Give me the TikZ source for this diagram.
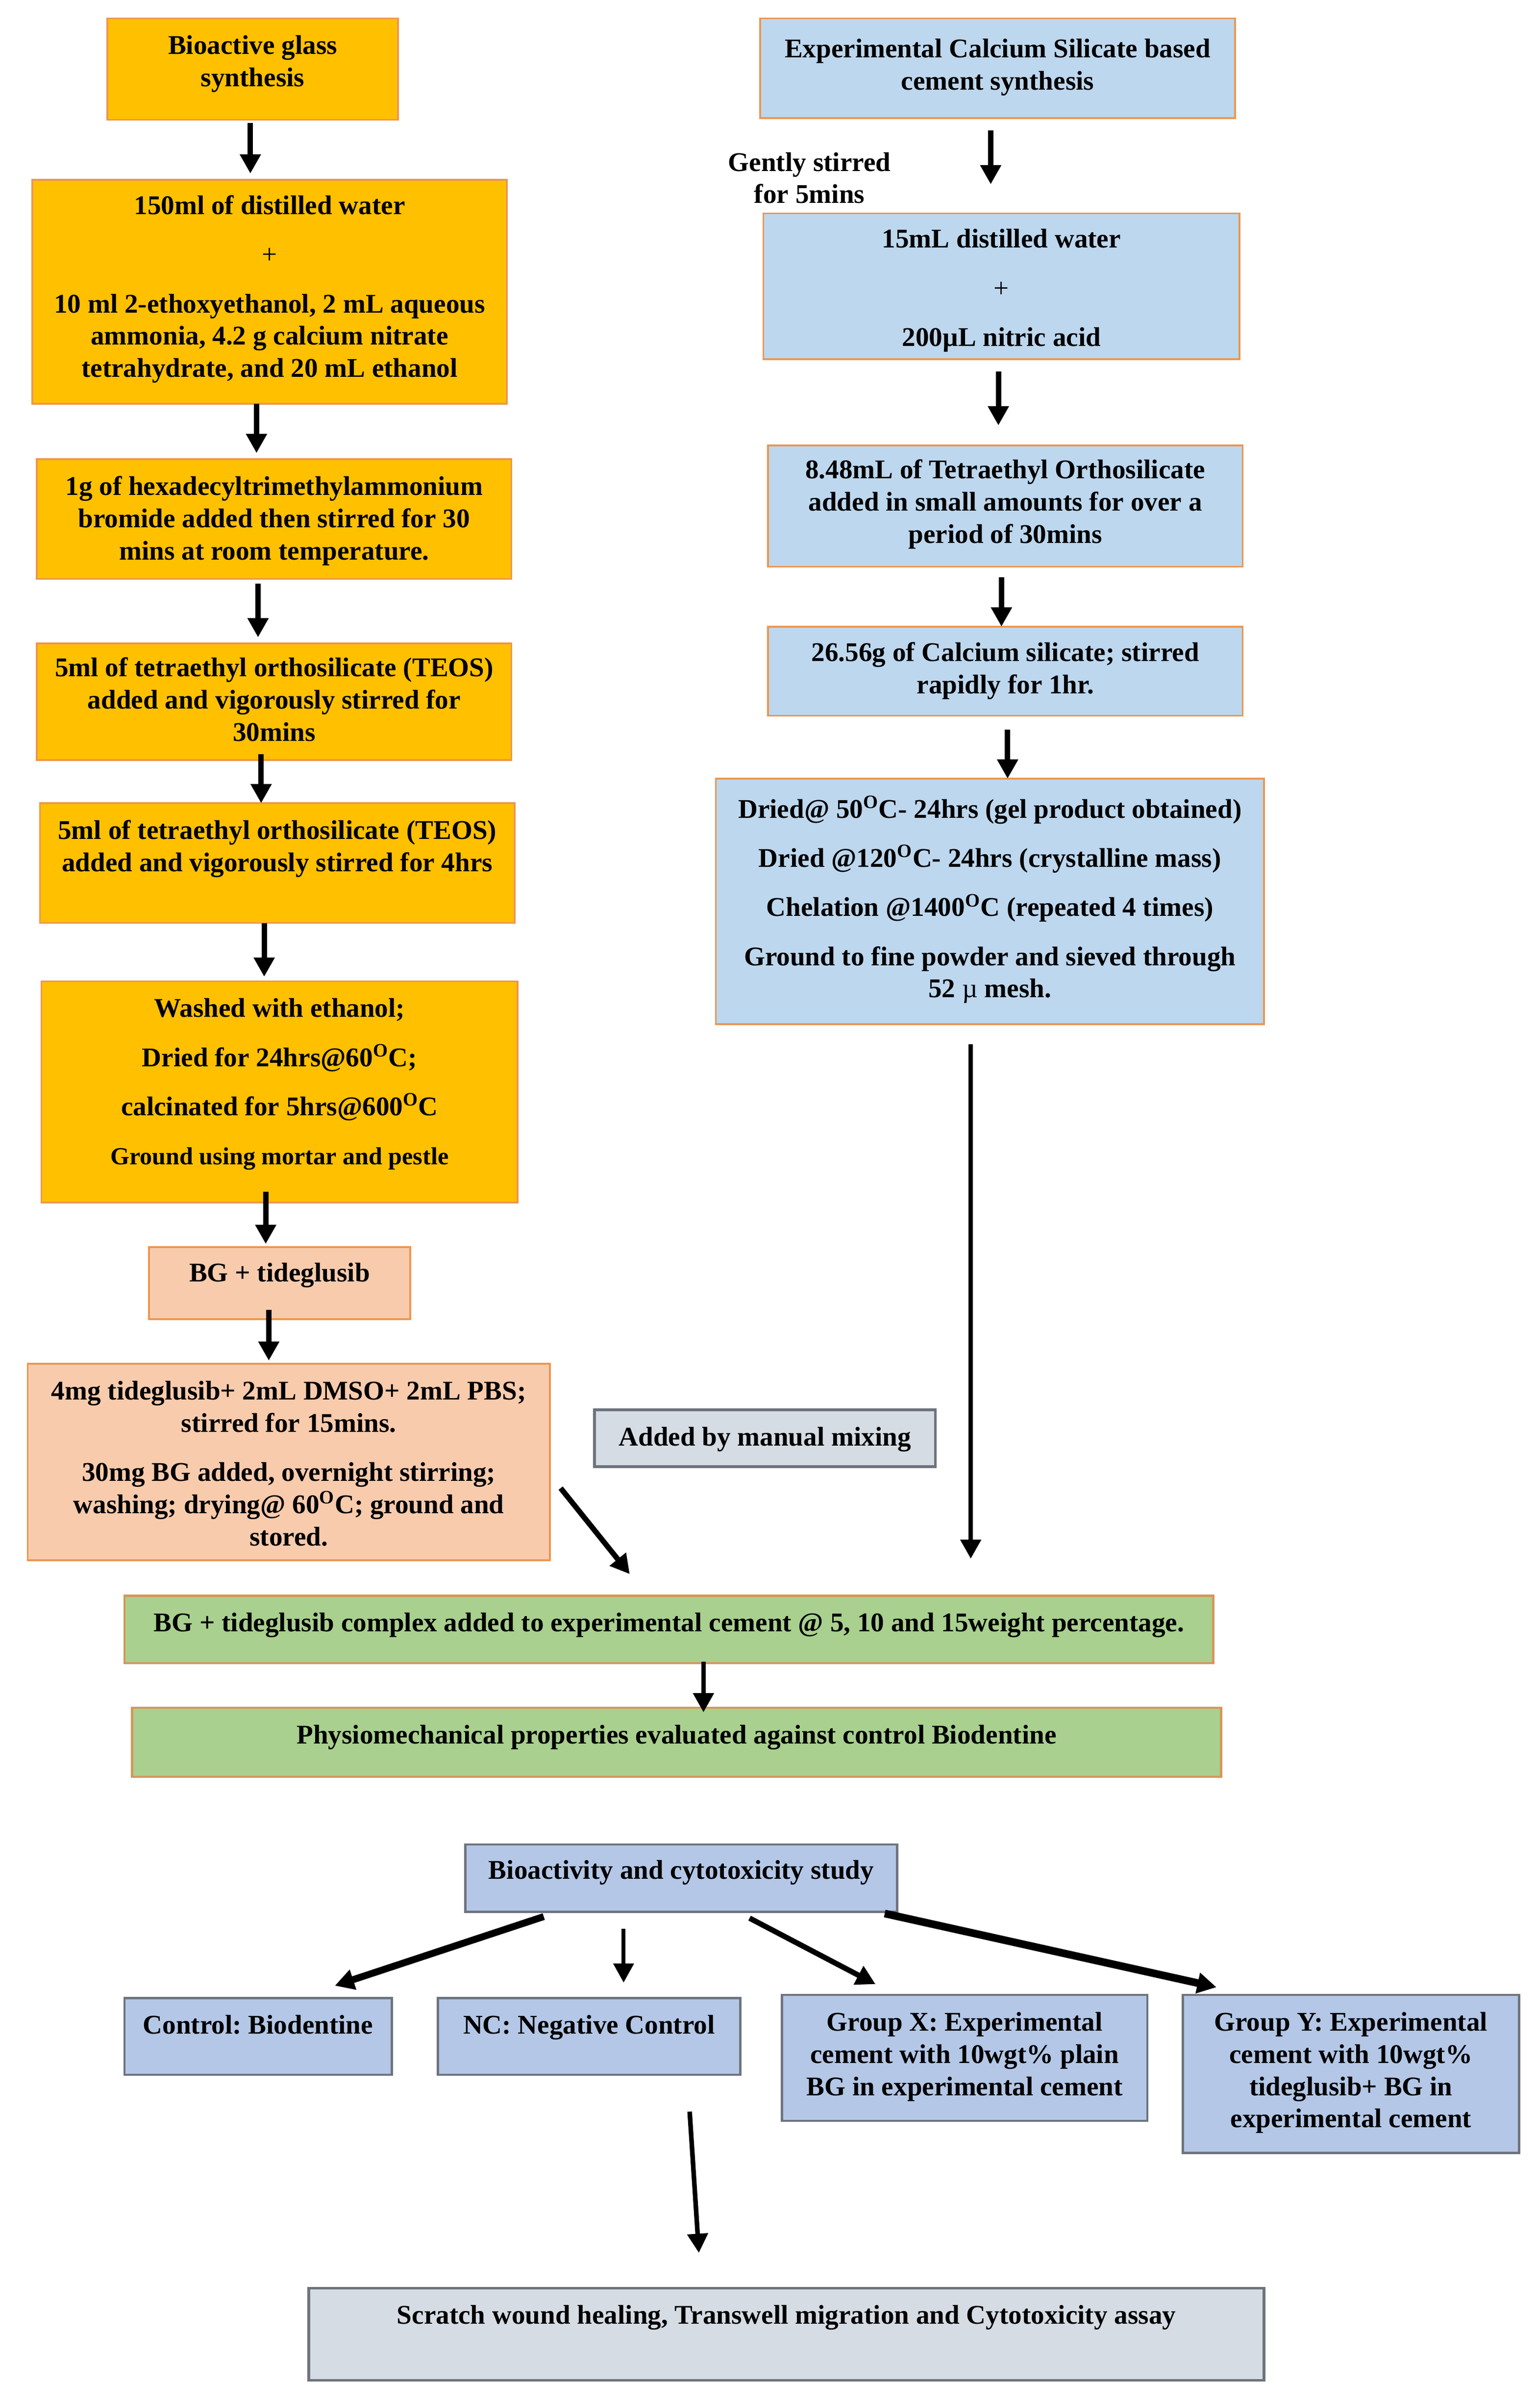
\documentclass[tikz,border=0pt]{standalone}
\usepackage{fontspec}
\setmainfont{Liberation Serif}
\usetikzlibrary{arrows.meta,calc,positioning}
\definecolor{orfill}{HTML}{FFC000}
\definecolor{orline}{RGB}{237,150,80}
\definecolor{peach}{HTML}{F8CBAD}
\definecolor{ltblue}{HTML}{BDD7EE}
\definecolor{lav}{HTML}{B4C7E7}
\definecolor{grn}{HTML}{A9D08E}
\definecolor{gry}{HTML}{D6DCE4}
\definecolor{grline}{RGB}{110,115,125}
\definecolor{gnline}{RGB}{214,150,90}
\newcommand{\fs}{\fontsize{17.6}{21}\selectfont\bfseries}
\newcommand{\dgo}{\textsuperscript{O}}
\frenchspacing
\begin{document}
\begin{tikzpicture}[x=1pt,y=-1pt,
  box/.style={draw=orline, line width=1.2pt, inner sep=0pt, outer sep=0pt, anchor=north west},
  obox/.style={box, fill=orfill},
  pbox/.style={box, fill=peach},
  bbox/.style={box, fill=ltblue},
  gbox/.style={box, fill=grn, draw=gnline, line width=1.5pt},
  lbox/.style={box, fill=lav, draw=grline, line width=1.5pt},
  ybox/.style={box, fill=gry, draw=grline, line width=1.8pt},
  txt/.style={font=\fs, align=center, inner sep=0pt, anchor=north, yshift=-2pt},
  arr/.style={-{Triangle[width=13pt,length=12.5pt]}, line width=3.5pt, black}
]
\fill[white] (0,0) rectangle (1000,1568);
\useasboundingbox (0,0) rectangle (1000,1568);

% ---------- left column ----------
\node[obox, minimum width=189pt, minimum height=66pt] (b1) at (70,12) {};
\node[txt] (t1) at ([yshift=-9pt]b1.north) {Bioactive glass\\synthesis};

\node[obox, minimum width=309pt, minimum height=146pt] (b2) at (21,117) {};
\node[txt] (t2) at ([yshift=-8pt]b2.north) {150ml of distilled water\\[11pt]{\mdseries +}\\[11pt]10 ml 2-ethoxyethanol, 2 mL aqueous\\ammonia, 4.2 g calcium nitrate\\tetrahydrate, and 20 mL ethanol};

\node[obox, minimum width=309pt, minimum height=78pt] (b3) at (24,299) {};
\node[txt] (t3) at ([yshift=-9pt]b3.north) {1g of hexadecyltrimethylammonium\\bromide added then stirred for 30\\mins at room temperature.};

\node[obox, minimum width=309pt, minimum height=76pt] (b4) at (24,419) {};
\node[txt] (t4) at ([yshift=-7pt]b4.north) {5ml of tetraethyl orthosilicate (TEOS)\\added and vigorously stirred for\\30mins};

\node[obox, minimum width=309pt, minimum height=78pt] (b5) at (26,523) {};
\node[txt] (t5) at ([yshift=-9pt]b5.north) {5ml of tetraethyl orthosilicate (TEOS)\\added and vigorously stirred for 4hrs};

\node[obox, minimum width=310pt, minimum height=144pt] (b6) at (27,639) {};
\node[txt] (t6) at ([yshift=-9pt]b6.north) {Washed with ethanol;\\[11pt]Dried for 24hrs@60\dgo C;\\[11pt]calcinated for 5hrs@600\dgo C\\[11pt]{\fontsize{16}{19}\selectfont Ground using mortar and pestle}};

\node[pbox, minimum width=170pt, minimum height=47pt] (b7) at (97,812) {};
\node[txt] (t7) at ([yshift=-8pt]b7.north) {BG + tideglusib};

\node[pbox, minimum width=340pt, minimum height=128pt] (b8) at (18,888) {};
\node[txt] (t8) at ([yshift=-9pt]b8.north) {4mg tideglusib+ 2mL DMSO+ 2mL PBS;\\stirred for 15mins.\\[11pt]30mg BG added, overnight stirring;\\washing; drying@ 60\dgo C; ground and\\stored.};

% ---------- right column ----------
\node[bbox, minimum width=309pt, minimum height=65pt] (r1) at (495,12) {};
\node[txt] (s1) at ([yshift=-11pt]r1.north) {Experimental Calcium Silicate based\\cement synthesis};

\node[txt] (lbl) at (527,97) {Gently stirred\\for 5mins};

\node[bbox, minimum width=310pt, minimum height=95pt] (r2) at (497,139) {};
\node[txt] (s2) at ([yshift=-8pt]r2.north) {15mL distilled water\\[11pt]{\mdseries +}\\[11pt]200µL nitric acid};

\node[bbox, minimum width=309pt, minimum height=79pt] (r3) at (500,290) {};
\node[txt] (s3) at ([yshift=-7pt]r3.north) {8.48mL of Tetraethyl Orthosilicate\\added in small amounts for over a\\period of 30mins};

\node[bbox, minimum width=309pt, minimum height=58pt] (r4) at (500,408) {};
\node[txt] (s4) at ([yshift=-8pt]r4.north) {26.56g of Calcium silicate; stirred\\rapidly for 1hr.};

\node[bbox, minimum width=357pt, minimum height=160pt] (r5) at (466,507) {};
\node[txt] (s5) at ([yshift=-9pt]r5.north) {Dried@ 50\dgo C- 24hrs (gel product obtained)\\[11pt]Dried @120\dgo C- 24hrs (crystalline mass)\\[11pt]Chelation @1400\dgo C (repeated 4 times)\\[11pt]Ground to fine powder and sieved through\\52 {\mdseries µ} mesh.};

% ---------- middle ----------
\node[ybox, minimum width=222pt, minimum height=37pt] (mx) at (387,918) {};
\node[txt] (tm) at ([yshift=-9pt]mx.north) {Added by manual mixing};

\node[gbox, minimum width=709pt, minimum height=44pt] (g1) at (81,1039) {};
\node[txt] (tg1) at ([yshift=-9pt]g1.north) {BG + tideglusib complex added to experimental cement @ 5, 10 and 15weight percentage.};

\node[gbox, minimum width=709pt, minimum height=45pt] (g2) at (86,1112) {};
\node[txt] (tg2) at ([yshift=-9pt]g2.north) {Physiomechanical properties evaluated against control Biodentine};

% ---------- bottom ----------
\node[lbox, minimum width=281pt, minimum height=44pt] (b0) at (303,1201) {};
\node[txt] (tb0) at ([yshift=-8pt]b0.north) {Bioactivity and cytotoxicity study};

\node[lbox, minimum width=174pt, minimum height=50pt] (c) at (81,1301) {};
\node[txt] (tc) at ([yshift=-9pt]c.north) {Control: Biodentine};

\node[lbox, minimum width=197pt, minimum height=50pt] (nc) at (285,1301) {};
\node[txt] (tnc) at ([yshift=-9pt]nc.north) {NC: Negative Control};

\node[lbox, minimum width=238pt, minimum height=82pt] (gx) at (509,1299) {};
\node[txt] (tgx) at ([yshift=-9pt]gx.north) {Group X: Experimental\\cement with 10wgt\% plain\\BG in experimental cement};

\node[lbox, minimum width=219pt, minimum height=103pt] (gy) at (770,1299) {};
\node[txt] (tgy) at ([yshift=-9pt]gy.north) {Group Y: Experimental\\cement with 10wgt\%\\tideglusib+ BG in\\experimental cement};

\node[ybox, minimum width=622pt, minimum height=60pt] (f) at (201,1490) {};
\node[txt] (tf) at ([yshift=-9pt]f.north) {Scratch wound healing, Transwell migration and Cytotoxicity assay};

% ---------- arrows left ----------
\draw[arr] ([xshift=-1.5pt,yshift=-2pt]b1.south) -- ([xshift=-12.5pt,yshift=4pt]b2.north);
\draw[arr] ([xshift=-8.5pt]b2.south) -- ([xshift=-11.5pt,yshift=4pt]b3.north);
\draw[arr] ([xshift=-10.5pt,yshift=-3pt]b3.south) -- ([xshift=-10.5pt,yshift=4pt]b4.north);
\draw[arr] ([xshift=-8.5pt,yshift=4pt]b4.south) -- ([xshift=-10.5pt]b5.north);
\draw[arr] ([xshift=-8.5pt]b5.south) -- ([xshift=-10pt,yshift=3pt]b6.north);
\draw[arr] ([xshift=-9pt,yshift=7pt]b6.south) -- ([xshift=-9pt,yshift=2pt]b7.north);
\draw[arr] ([xshift=-7pt,yshift=6pt]b7.south) -- ([xshift=-13pt,yshift=2pt]b8.north);

% ---------- arrows right ----------
\draw[arr] ([xshift=-4.5pt,yshift=-8pt]r1.south) -- ([xshift=-7pt,yshift=19pt]r2.north);
\draw[arr] ([xshift=-2pt,yshift=-8pt]r2.south) -- ([xshift=-4.5pt,yshift=13pt]r3.north);
\draw[arr] ([xshift=-2.5pt,yshift=-7pt]r3.south) -- ([xshift=-2.5pt]r4.north);
\draw[arr] ([xshift=1.5pt,yshift=-9pt]r4.south) -- ([xshift=11.5pt]r5.north);
\draw[arr, line width=3pt] ([xshift=-12.5pt,yshift=-13pt]r5.south) -- ([xshift=196.5pt,yshift=24pt]g1.north);

% ---------- middle arrows ----------
\draw[arr] ([xshift=7pt,yshift=-17pt]b8.east) -- ([xshift=-25.5pt,yshift=14pt]g1.north);
\draw[arr, line width=3pt] ([xshift=22.5pt,yshift=1pt]g1.south) -- ([xshift=17.5pt,yshift=-3pt]g2.north);

% ---------- bottom arrows ----------
\draw[arr, line width=4.5pt] ([xshift=-89.5pt,yshift=-3pt]b0.south) -- ([xshift=50pt,yshift=8pt]c.north);
\draw[arr, line width=2.5pt] ([xshift=-37.5pt,yshift=-11pt]b0.south) -- ([xshift=22.5pt,yshift=10pt]nc.north);
\draw[arr, line width=3.5pt] ([xshift=44.5pt,yshift=-4pt]b0.south) -- ([xshift=-58pt,yshift=7pt]gx.north);
\draw[arr, line width=5pt] ([xshift=132.5pt,yshift=-1pt]b0.south) -- ([xshift=-87.5pt,yshift=5pt]gy.north);
\draw[arr, line width=3pt] ([xshift=65.5pt,yshift=-24pt]nc.south) -- ([xshift=-57pt,yshift=23pt]f.north);
\end{tikzpicture}
\end{document}
